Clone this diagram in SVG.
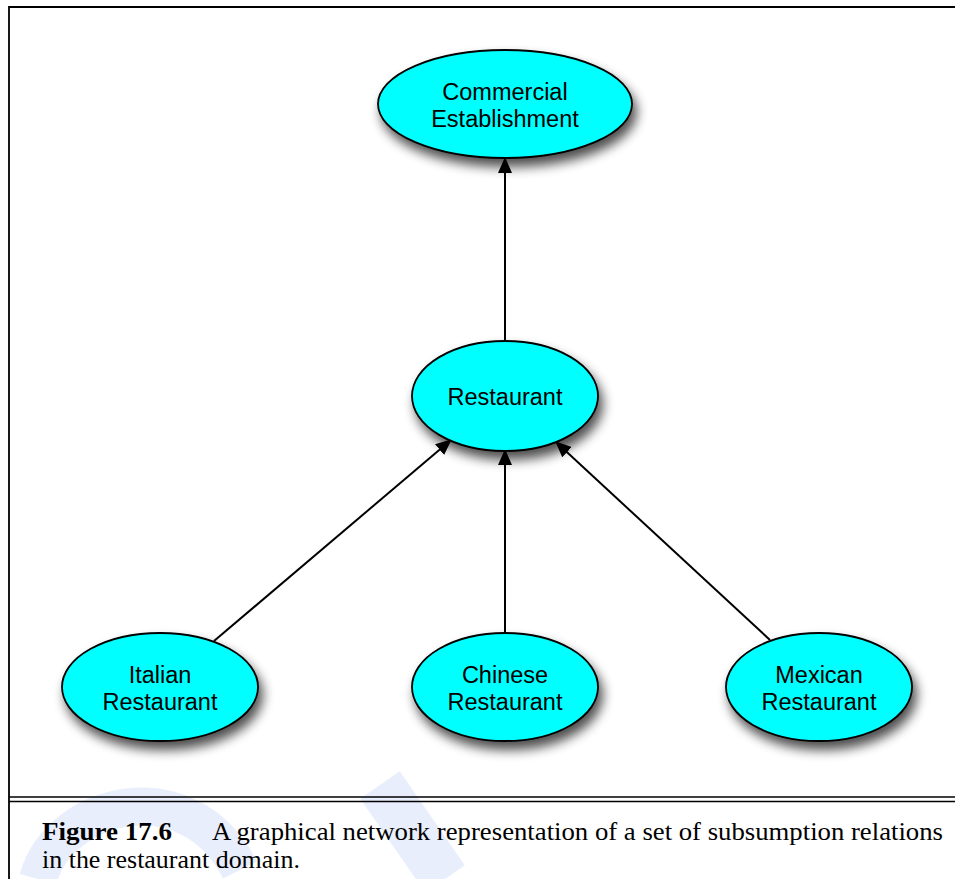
<svg xmlns="http://www.w3.org/2000/svg" width="955" height="879" viewBox="0 0 955 879">
<style>
.node ellipse{fill:#00ffff;stroke:#000;stroke-width:1.8;filter:url(#sh)}
.lbl{font-family:"Liberation Sans",Arial,sans-serif;font-size:23.5px;fill:#000;text-anchor:middle}
.edge{stroke:#000;stroke-width:2;fill:none;marker-end:url(#ah)}
.cap{font-family:"Liberation Serif","Times New Roman",serif;font-size:26px;fill:#000}
.wm{fill:none;stroke:#e8eefc}
</style>
<defs>
<filter id="sh" x="-30%" y="-30%" width="160%" height="170%">
<feGaussianBlur in="SourceAlpha" stdDeviation="6"/>
<feOffset dx="4" dy="8" result="b"/>
<feComponentTransfer><feFuncA type="linear" slope="0.7"/></feComponentTransfer>
<feMerge><feMergeNode/><feMergeNode in="SourceGraphic"/></feMerge>
</filter>
<marker id="ah" markerWidth="16" markerHeight="14" viewBox="0 0 16 14" refX="15" refY="7" orient="auto" markerUnits="userSpaceOnUse">
<path d="M0,0 L16,7 L0,14 Z" fill="#000"/>
</marker>
</defs>
<rect width="955" height="879" fill="#fff"/>
<g id="watermark">
<path class="wm" stroke-width="38" d="M38,879 C60,800 190,770 240,870"/>
<path class="wm" stroke-width="48" d="M380,785 L445,879"/>
</g>
<g id="frame" stroke="#000" fill="none">
<path d="M9,879 V7 H955" stroke-width="1.8"/>
<path d="M9,797 H955" stroke-width="1.3"/>
<path d="M9,801.5 H955" stroke-width="1.3"/>
</g>
<g id="connectors">
<line class="edge" x1="505" y1="341" x2="505" y2="158"/>
<line class="edge" x1="214" y1="641" x2="451" y2="440"/>
<line class="edge" x1="505" y1="632" x2="505" y2="450"/>
<line class="edge" x1="770" y1="640" x2="556" y2="442"/>
</g>
<g id="commercial" class="node">
<ellipse cx="505" cy="104" rx="127" ry="54"/>
<text class="lbl" x="505" y="100">Commercial</text>
<text class="lbl" x="505" y="127">Establishment</text>
</g>
<g id="restaurant" class="node">
<ellipse cx="505" cy="396" rx="93" ry="55"/>
<text class="lbl" x="505" y="405">Restaurant</text>
</g>
<g id="italian" class="node">
<ellipse cx="160" cy="687" rx="98" ry="54"/>
<text class="lbl" x="160" y="683">Italian</text>
<text class="lbl" x="160" y="710">Restaurant</text>
</g>
<g id="chinese" class="node">
<ellipse cx="505" cy="687" rx="93" ry="54"/>
<text class="lbl" x="505" y="683">Chinese</text>
<text class="lbl" x="505" y="710">Restaurant</text>
</g>
<g id="mexican" class="node">
<ellipse cx="819" cy="687" rx="93" ry="54"/>
<text class="lbl" x="819" y="683">Mexican</text>
<text class="lbl" x="819" y="710">Restaurant</text>
</g>
<g id="caption">
<text class="cap" x="42" y="840" font-weight="bold" textLength="130" lengthAdjust="spacingAndGlyphs">Figure 17.6</text>
<text class="cap" x="212" y="840" textLength="731" lengthAdjust="spacingAndGlyphs">A graphical network representation of a set of subsumption relations</text>
<text class="cap" x="42" y="868" textLength="258" lengthAdjust="spacingAndGlyphs">in the restaurant domain.</text>
</g>
</svg>
